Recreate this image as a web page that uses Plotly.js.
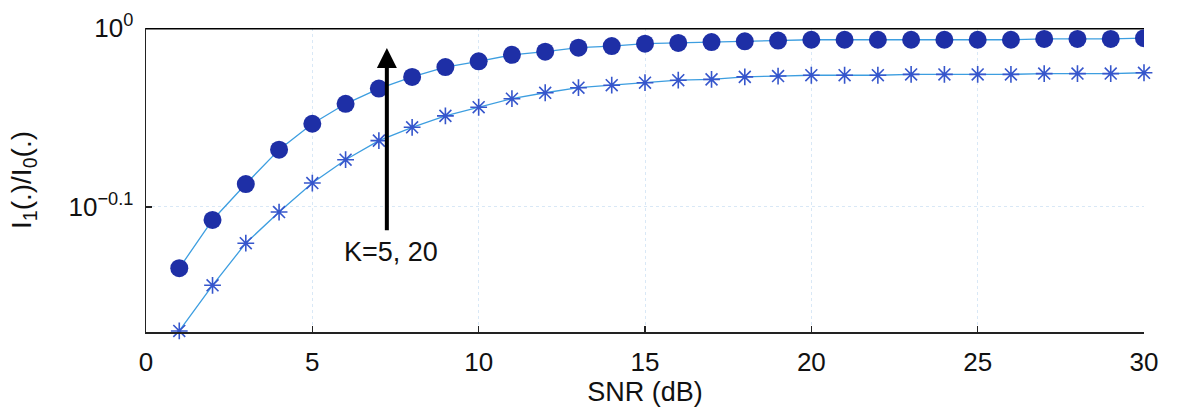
<!DOCTYPE html>
<html>
<head>
<meta charset="utf-8">
<script src="https://cdn.plot.ly/plotly-3.0.1.min.js"></script>
<style>html,body{margin:0;padding:0;background:#fff;}#chart{width:1177px;height:413px;}</style>
</head>
<body>
<div id="chart"></div>
<script>
var snr = [1,2,3,4,5,6,7,8,9,10,11,12,13,14,15,16,17,18,19,20,21,22,23,24,25,26,27,28,29,30];
var ratioK20 = [0.734,0.781,0.818,0.855,0.884,0.907,0.925,0.939,0.951,0.958,0.966,0.970,0.975,0.977,0.980,0.981,0.982,0.983,0.984,0.985,0.985,0.985,0.985,0.985,0.985,0.985,0.986,0.986,0.986,0.987];
var ratioK5 = [0.677,0.718,0.758,0.789,0.819,0.844,0.865,0.880,0.893,0.903,0.913,0.920,0.926,0.929,0.932,0.935,0.936,0.939,0.940,0.941,0.941,0.941,0.942,0.942,0.942,0.942,0.943,0.943,0.943,0.944];
var boundX = [0, 30];
var boundY = [1, 1];
var yTickVals = [0.7943282347, 1];
var yTickText = ['10<sup>\u22120.1</sup>', '10<sup>0</sup>'];
var xTickVals = [0,5,10,15,20,25,30];
var arrowLabel = 'K=5, 20';

var lineColor = '#3d9ee0';
var traces = [
  {x: boundX, y: boundY, mode: 'lines', line: {color: '#000', width: 3}, cliponaxis: false, hoverinfo: 'skip'},
  {x: snr, y: ratioK20, mode: 'lines+markers', line: {color: lineColor, width: 1.3},
   marker: {symbol: 'circle', size: 18, color: '#1e2fa6', line: {width: 0}}},
  {x: snr, y: ratioK5, mode: 'lines+markers', line: {color: lineColor, width: 1.3}, cliponaxis: false,
   marker: {symbol: 'asterisk-open', size: 14, color: '#3656cc', line: {color: '#3656cc', width: 1.6}}}
];

var layout = {
  width: 1177, height: 413,
  margin: {l: 146, r: 33, t: 28, b: 81},
  paper_bgcolor: '#fff', plot_bgcolor: '#fff',
  showlegend: false,
  font: {family: 'Liberation Sans, Arial, sans-serif', color: '#111'},
  xaxis: {
    range: [0, 30], tickmode: 'array', tickvals: xTickVals,
    ticks: 'inside', ticklen: 6, tickcolor: '#222', tickwidth: 1.5,
    showline: true, linecolor: '#222', linewidth: 1.5, mirror: false,
    showgrid: true, gridcolor: '#d9e8f6', griddash: 'dot', gridwidth: 1,
    zeroline: false,
    tickfont: {size: 26, color: '#111'},
    ticklabelstandoff: 6,
    title: {text: 'SNR (dB)', font: {size: 27, color: '#111'}, standoff: 0}
  },
  yaxis: {
    type: 'log', range: [-0.17, 0],
    tickmode: 'array', tickvals: yTickVals, ticktext: yTickText,
    ticks: 'inside', ticklen: 6, tickcolor: '#222', tickwidth: 1.5,
    showline: true, linecolor: '#222', linewidth: 1.5,
    showgrid: true, gridcolor: '#d9e8f6', griddash: 'dot', gridwidth: 1,
    zeroline: false,
    tickfont: {size: 26, color: '#111'},
    ticklabelstandoff: 6,
    title: {text: 'I<sub>1</sub>(.)/I<sub>0</sub>(.)', font: {size: 28, color: '#111'}, standoff: 28}
  },
  annotations: [
    {x: 7.24, y: -0.0112, ax: 7.24, ay: -0.114, xref: 'x', yref: 'y', axref: 'x', ayref: 'y',
     showarrow: true, arrowhead: 2, arrowsize: 1, arrowwidth: 4, arrowcolor: '#000', text: ''},
    {x: 7.35, y: -0.1255, xref: 'x', yref: 'y', text: arrowLabel, showarrow: false,
     font: {size: 27, color: '#111'}, bgcolor: 'rgba(255,255,255,0.9)'}
  ]
};

Plotly.newPlot('chart', traces, layout, {displayModeBar: false, staticPlot: true});
</script>
</body>
</html>
